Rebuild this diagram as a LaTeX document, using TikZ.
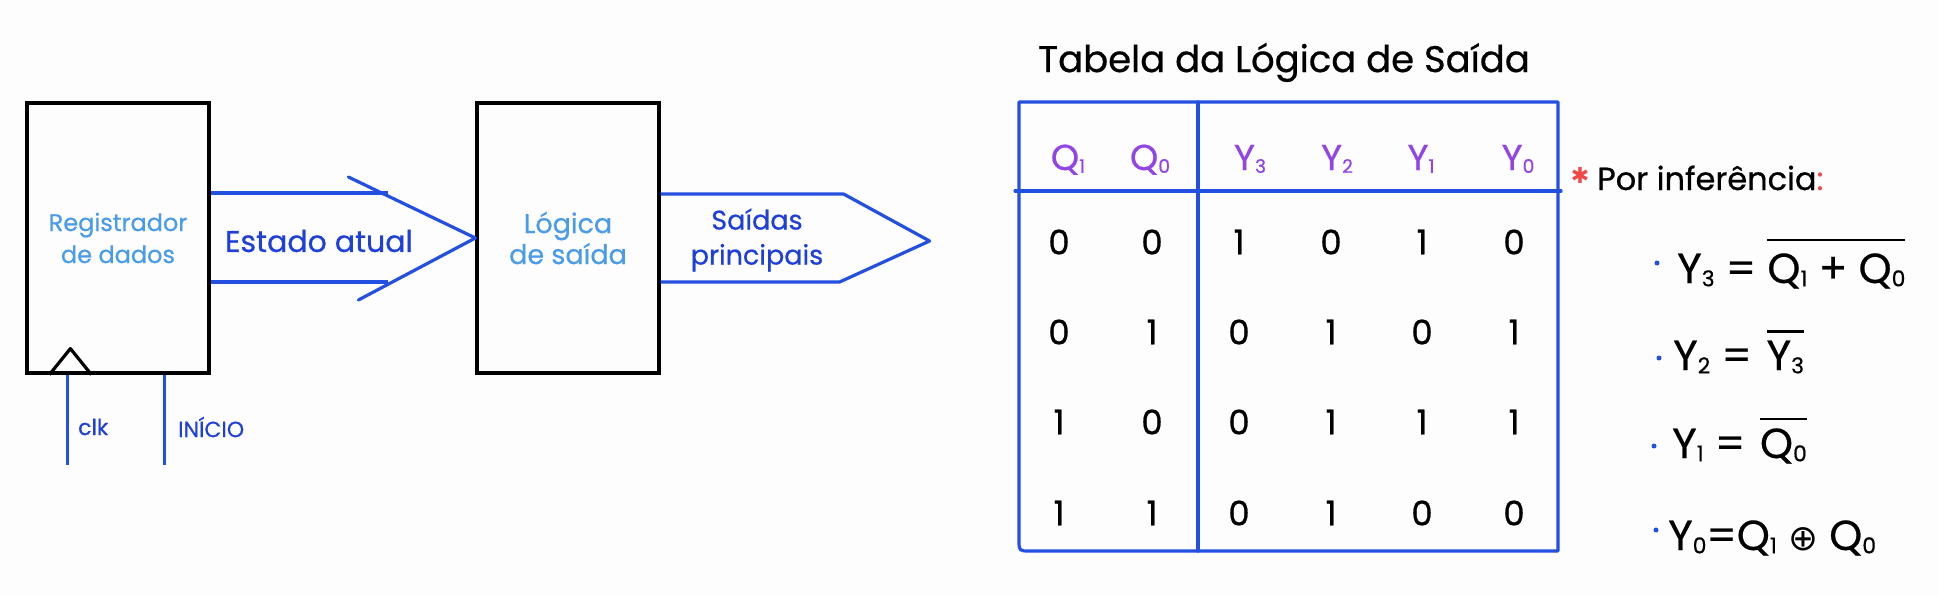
\documentclass[tikz,border=0pt]{standalone}
\usepackage{fontspec}
\setmainfont{Poppins}[FakeBold=0.6]
\newfontfamily\symfont{DejaVu Sans}
\usetikzlibrary{calc}
\definecolor{lineblue}{HTML}{2350E0}
\definecolor{textblue}{HTML}{1E3FD8}
\definecolor{lightblue}{HTML}{4A9BE8}
\definecolor{hdrpurple}{HTML}{9245E6}
\definecolor{starred}{HTML}{F04848}
\definecolor{bgcol}{HTML}{FDFDFD}
\newcommand{\sbs}[1]{\raisebox{-0.08em}{\scalebox{0.52}{#1}}}
\newcommand{\ovr}[2]{\vbox{\hrule height 2.8pt\kern#1\hbox{#2}}}
\begin{document}
\begin{tikzpicture}[x=1pt,y=-1pt,
  blk/.style={draw=black, line width=3.2pt, minimum width=182pt, minimum height=270pt, inner sep=0pt, text=lightblue, align=center},
  bl/.style={draw=lineblue, line width=3.2pt, line cap=round, line join=round},
  bk/.style={draw=black, line width=3.2pt, line join=round},
  lbl/.style={text=textblue, inner sep=0pt},
  hdr/.style={text=hdrpurple, font=\fontsize{36}{36}\selectfont, inner sep=0pt, anchor=base},
  dig/.style={font=\fontsize{34}{34}\selectfont, inner sep=0pt},
  eq/.style={font=\fontsize{42}{42}\selectfont, anchor=base west, inner sep=0pt},
  dot/.style={circle, fill=lineblue, inner sep=0pt, minimum size=5pt},
]
\fill[bgcol] (0,0) rectangle (1938,597);
\useasboundingbox (0,0) rectangle (1938,597);

% blocks
\node[blk, font=\fontsize{24}{32}\selectfont] (reg) at (118,238) {Registrador\\de dados};
\node[blk, font=\fontsize{27}{31}\selectfont] (logic) at (568,238) {Lógica\\de saída};

% clock triangle and inputs
\draw[bk] ($(reg.south west)+(24,0)$) -- ($(reg.south west)+(45,-26)$) -- ($(reg.south west)+(66,0)$);
\draw[bl, line cap=butt] ($(reg.south west)+(42,0)$) -- ++(0,90) coordinate (clkend);
\draw[bl, line cap=butt] ($(reg.south west)+(139,0)$) -- ++(0,90) coordinate (iniend);
\node[lbl, anchor=west, font=\fontsize{22}{22}\selectfont] (clk) at (78,427) {clk};
\node[lbl, anchor=west, font=\fontsize{22}{22}\selectfont] (ini) at (178,427) {INÍCIO};

% wide arrow: Estado atual
\draw[bl, line cap=butt] ($(reg.east)+(0,-45)$) -- ($(logic.west)+(-87,-45)$);
\draw[bl, line cap=butt] ($(reg.east)+(0,44)$) -- ($(logic.west)+(-87,44)$);
\draw[bl] ($(logic.west)+(-127,-61)$) -- (logic.west) -- ($(logic.west)+(-117,62)$);
\node[lbl, font=\fontsize{30}{30}\selectfont] (est) at (319,241) {Estado atual};

% output arrow
\coordinate (outtip) at ($(logic.east)+(269,3)$);
\draw[bl, line cap=butt] ($(logic.east)+(0,-44)$) -- ($(logic.east)+(183,-44)$) -- (outtip) -- ($(logic.east)+(179,44)$) -- ($(logic.east)+(0,44)$);
\node[lbl, align=center, font=\fontsize{27}{35}\selectfont] (out) at (757,240) {Saídas\\principais};

% table
\node[font=\fontsize{37}{37}\selectfont, inner sep=0pt, anchor=base] (title) at (1284,72) {Tabela da Lógica de Saída};
\coordinate (tnw) at (1019,102);
\coordinate (tne) at (1558,102);
\coordinate (tse) at (1558,551);
\coordinate (tsw) at (1019,551);
\draw[bl] (tnw) -- (tne) -- (tse) -- ($(tsw)+(11,0)$) .. controls (tsw) .. ($(tsw)+(0,-11)$) -- cycle;
\draw[bl] (1015,191) -- (1561,191);
\draw[bl] (1198,102) -- (1198,551);

\node[hdr] (hq1) at (1068,170) {Q\sbs{1}};
\node[hdr] (hq0) at (1150,170) {Q\sbs{0}};
\node[hdr] (hy3) at (1250,170) {Y\sbs{3}};
\node[hdr] (hy2) at (1337,170) {Y\sbs{2}};
\node[hdr] (hy1) at (1421,170) {Y\sbs{1}};
\node[hdr] (hy0) at (1518,170) {Y\sbs{0}};

\foreach \vals [count=\r] in {{0,0,1,0,1,0},{0,1,0,1,0,1},{1,0,0,1,1,1},{1,1,0,1,0,0}} {
  \foreach \v [count=\c] in \vals {
    \pgfmathsetmacro{\cx}{{1059,1152,1239,1331,1422,1514}[\c-1]}
    \pgfmathsetmacro{\ry}{{242,332,422,513}[\r-1]}
    \node[dig] (d\r\c) at (\cx,\ry) {\v};
  }
}

% inference
\node[text=starred, inner sep=0pt, font=\symfont\fontsize{22}{22}\selectfont] (star) at (1580,175) {✱};
\node[inner sep=0pt, anchor=base west, font=\fontsize{32}{32}\selectfont] (inf) at (1597,190) {Por inferência\textcolor{starred}{:}};

\node[dot] (b1) at (1657,263) {};
\node[dot] (b2) at (1659,358) {};
\node[dot] (b3) at (1654,446) {};
\node[dot] (b4) at (1656,530) {};

\node[eq] (eq1) at (1677,283) {Y\sbs{3} = \ovr{12pt}{Q\sbs{1} + Q\sbs{0}}};
\node[eq] (eq2) at (1673,370) {Y\sbs{2} =\hspace{0.35em}\ovr{8pt}{Y\sbs{3}}};
\node[eq] (eq3) at (1672,458) {Y\sbs{1} =\hspace{0.35em}\ovr{8pt}{Q\sbs{0}}};
\node[eq] (eq4) at (1668,550) {Y\sbs{0}=Q\sbs{1} {\symfont\scalebox{0.85}{⊕}} Q\sbs{0}};
\end{tikzpicture}
\end{document}
